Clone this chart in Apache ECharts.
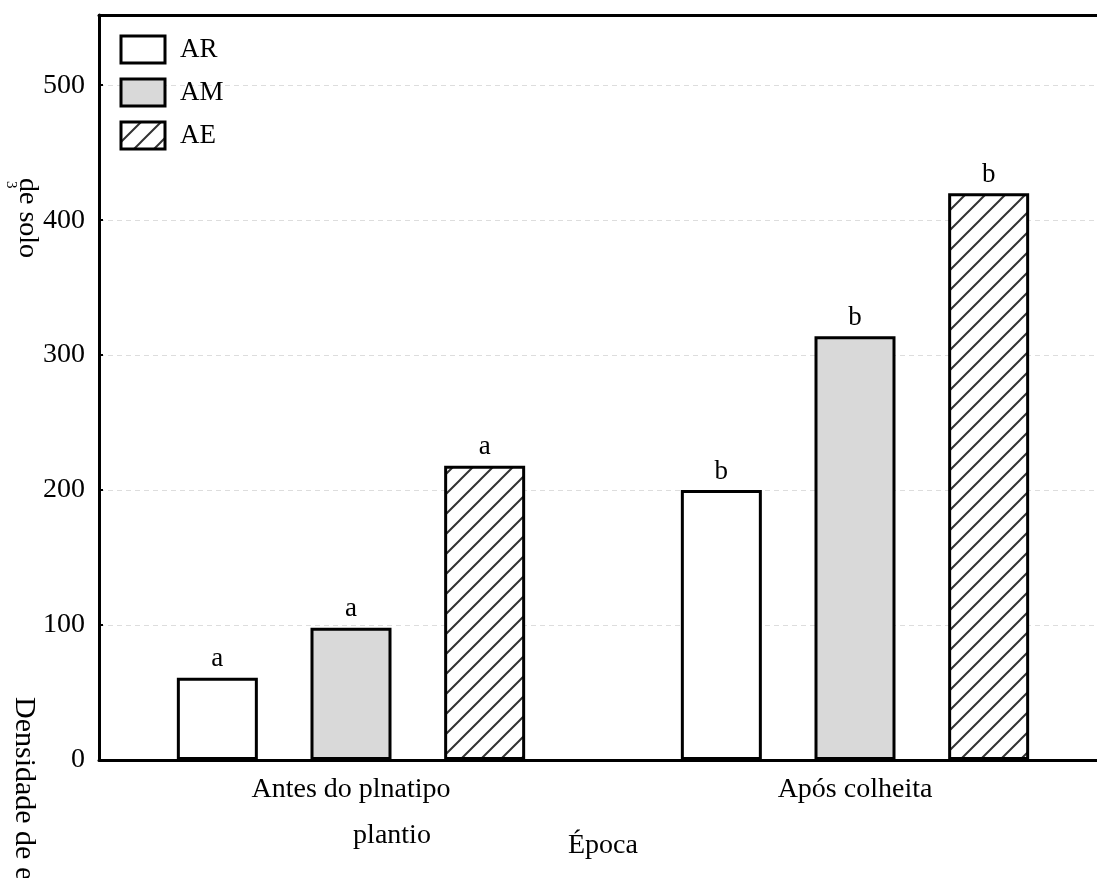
<!DOCTYPE html>
<html>
<head>
<meta charset="utf-8">
<script src="https://cdn.jsdelivr.net/npm/echarts@6/dist/echarts.min.js"></script>
<style>
  html, body { margin: 0; padding: 0; background: #fff; overflow: hidden; }
  /* the drawing runs slightly past the right edge of the window */
  #chart { width: 1107px; height: 878px; }
</style>
</head>
<body>
<div id="chart"></div>
<script>
// Categories on the x axis (época de amostragem)
const categories = ['Antes do plnatipo', 'Após colheita'];

// Densidade por área
const valuesAR = [61, 200];
const valuesAM = [98, 314];
const valuesAE = [218, 420];

// Letras de comparação de médias sobre as barras
const lettersAR = ['a', 'b'];
const lettersAM = ['a', 'b'];
const lettersAE = ['a', 'b'];

// Y axis ticks
const yTicks = [0, 100, 200, 300, 400, 500];

const FONT = '"Liberation Serif", "Times New Roman", serif';

// Diagonal hatch tile for the AE bars
function hatchPattern() {
  const c = document.createElement('canvas');
  c.width = 20; c.height = 20;
  const g = c.getContext('2d');
  g.fillStyle = '#ffffff';
  g.fillRect(0, 0, 20, 20);
  g.strokeStyle = '#333333';
  g.lineWidth = 2;
  g.beginPath();
  g.moveTo(-2, 22); g.lineTo(22, -2);
  g.moveTo(-2, 2); g.lineTo(2, -2);
  g.moveTo(18, 22); g.lineTo(22, 18);
  g.stroke();
  return { image: c, repeat: 'repeat' };
}

const barLabel = (letters) => ({
  show: true,
  position: 'top',
  distance: 5,
  color: '#000',
  fontFamily: FONT,
  fontSize: 27,
  formatter: (p) => letters[p.dataIndex]
});

const border = { borderColor: '#000', borderWidth: 3 };
const BAR_W = 81;
const BAR_GAP = '65%';

const chart = echarts.init(document.getElementById('chart'), null, { renderer: 'canvas' });

chart.setOption({
  animation: false,
  backgroundColor: '#fff',
  textStyle: { fontFamily: FONT, color: '#000' },
  grid: { left: 99, right: 0, top: 15, bottom: 118, containLabel: false },
  legend: {
    left: 119.5,
    top: 34.5,
    padding: 0,
    orient: 'vertical',
    itemWidth: 44,
    itemHeight: 27,
    itemGap: 13,
    icon: 'rect',
    itemStyle: { borderColor: '#000', borderWidth: 3 },
    textStyle: { fontFamily: FONT, fontSize: 27, color: '#000', padding: [0, 0, 0, 10] },
    data: ['AR', 'AM', 'AE']
  },
  xAxis: [
    {
      type: 'category',
      data: categories,
      axisLine: { lineStyle: { color: '#000', width: 3 } },
      axisTick: { show: true, inside: true, alignWithLabel: true, length: 4, lineStyle: { color: '#000', width: 2 } },
      axisLabel: { color: '#000', fontFamily: FONT, fontSize: 28, margin: 16 },
      splitLine: { show: false }
    },
    {
      type: 'category',
      position: 'top',
      data: categories,
      axisLine: { lineStyle: { color: '#000', width: 3 } },
      axisTick: { show: false },
      axisLabel: { show: false },
      splitLine: { show: false }
    }
  ],
  yAxis: {
    type: 'value',
    min: 0,
    max: 552,
    interval: 100,
    axisLine: { show: true, lineStyle: { color: '#000', width: 3 } },
    axisTick: { show: true, inside: true, length: 4, lineStyle: { color: '#000', width: 2 } },
    axisLabel: {
      color: '#000', fontFamily: FONT, fontSize: 28, margin: 14,
      showMaxLabel: false,
      formatter: (v) => (yTicks.indexOf(v) >= 0 ? String(v) : '')
    },
    splitLine: { show: true, lineStyle: { color: '#dddddd', type: [5, 4], width: 1 } }
  },
  series: [
    {
      name: 'AR', type: 'bar', data: valuesAR, barWidth: BAR_W, barGap: BAR_GAP,
      itemStyle: Object.assign({ color: '#ffffff' }, border),
      label: barLabel(lettersAR)
    },
    {
      name: 'AM', type: 'bar', data: valuesAM, barWidth: BAR_W, barGap: BAR_GAP,
      itemStyle: Object.assign({ color: '#d9d9d9' }, border),
      label: barLabel(lettersAM)
    },
    {
      name: 'AE', type: 'bar', data: valuesAE, barWidth: BAR_W, barGap: BAR_GAP,
      itemStyle: Object.assign({ color: hatchPattern() }, border),
      label: barLabel(lettersAE)
    }
  ],
  graphic: [
    {
      type: 'text', x: 392, y: 836,
      style: { text: 'plantio', font: '28px ' + FONT, fill: '#000', textAlign: 'center', textVerticalAlign: 'middle' }
    },
    {
      type: 'text', x: 603, y: 846,
      style: { text: 'Época', font: '28px ' + FONT, fill: '#000', textAlign: 'center', textVerticalAlign: 'middle' }
    },
    {
      type: 'text', x: 24, y: 697, rotation: -Math.PI / 2,
      style: { text: 'Densidade de esporos', font: '30px ' + FONT, fill: '#000', textAlign: 'left', textVerticalAlign: 'middle' }
    },
    {
      type: 'text', x: 27, y: 178, rotation: -Math.PI / 2,
      style: { text: 'de solo', font: '28px ' + FONT, fill: '#000', textAlign: 'left', textVerticalAlign: 'middle' }
    },
    {
      type: 'text', x: 11, y: 181, rotation: -Math.PI / 2,
      style: { text: '3', font: '15px ' + FONT, fill: '#000', textAlign: 'left', textVerticalAlign: 'middle' }
    }
  ]
});
</script>
</body>
</html>
